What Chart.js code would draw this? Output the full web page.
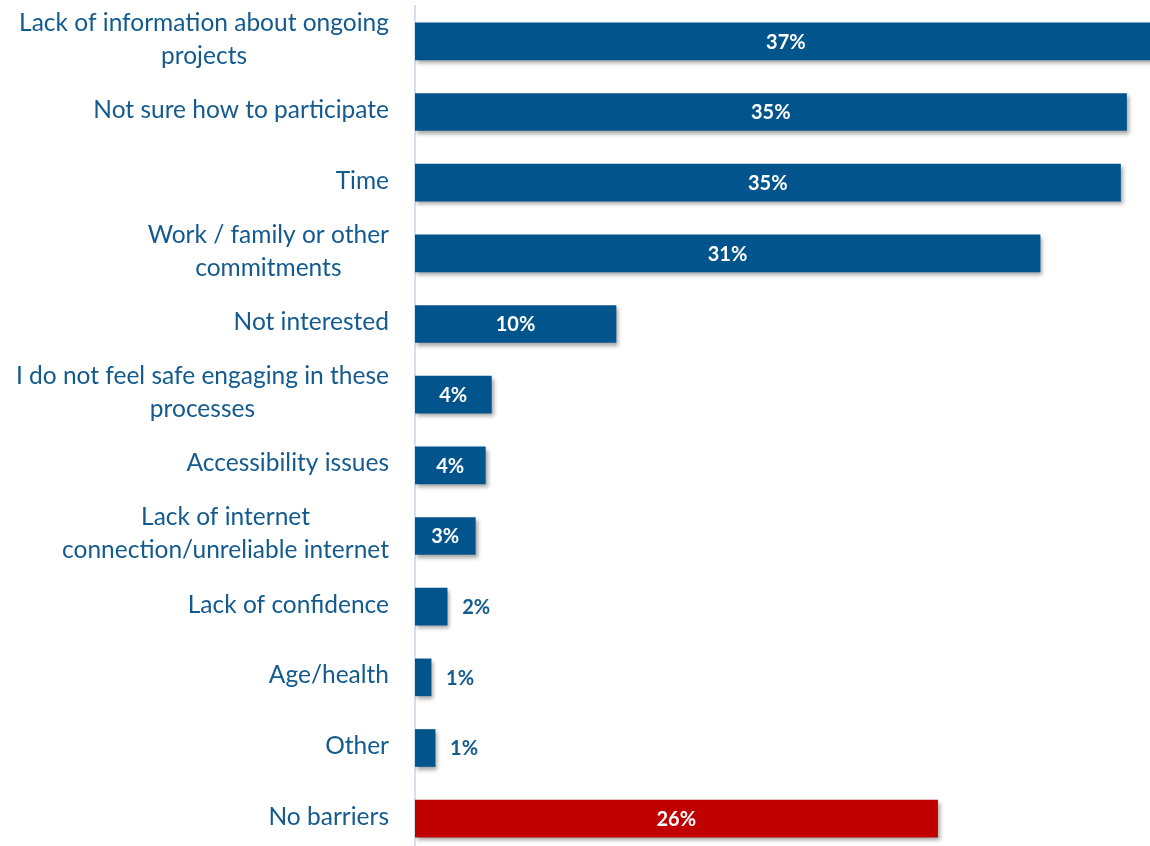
<!DOCTYPE html>
<html>
<head>
<meta charset="utf-8">
<script src="https://cdn.jsdelivr.net/npm/chart.js@4/dist/chart.umd.min.js"></script>
<style>
  html, body { margin: 0; padding: 0; background: #ffffff; overflow: hidden; width: 1150px; height: 846px; }
  #wrap { position: absolute; left: 0; top: 0; width: 1219px; height: 870px; }
</style>
</head>
<body>
<div id="wrap"><canvas id="c" width="1219" height="870"></canvas></div>
<script>
const categories = [
  ["Lack of information about ongoing", "projects"],
  ["Not sure how to participate"],
  ["Time"],
  ["Work / family or other", "commitments"],
  ["Not interested"],
  ["I do not feel safe engaging in these", "processes"],
  ["Accessibility issues"],
  ["Lack of internet", "connection/unreliable internet"],
  ["Lack of confidence"],
  ["Age/health"],
  ["Other"],
  ["No barriers"]
];
const values = [36.9, 35.4, 35.1, 31.1, 10.0, 3.8, 3.5, 3.0, 1.6, 0.8, 1.0, 26.0];
const valueLabels = ["37%", "35%", "35%", "31%", "10%", "4%", "4%", "3%", "2%", "1%", "1%", "26%"];
const barColors = ["#02558C", "#02558C", "#02558C", "#02558C", "#02558C", "#02558C", "#02558C", "#02558C", "#02558C", "#02558C", "#02558C", "#C00000"];

const LABEL_COLOR = "#135A8F";
const LABEL_FONT = "24.5px Lato, 'Open Sans', sans-serif";
const VALUE_FONT = "bold 20px Lato, 'Open Sans', sans-serif";

const shadowPlugin = {
  id: 'barShadow',
  beforeDatasetsDraw(chart) {
    const ctx = chart.ctx;
    ctx.save();
    ctx.shadowColor = 'rgba(0,0,0,0.35)';
    ctx.shadowBlur = 4;
    ctx.shadowOffsetX = 2;
    ctx.shadowOffsetY = 3;
  },
  afterDatasetsDraw(chart) {
    chart.ctx.restore();
  }
};

const textPlugin = {
  id: 'texts',
  afterDraw(chart) {
    const ctx = chart.ctx;
    const yScale = chart.scales.y;
    const xScale = chart.scales.x;
    const meta = chart.getDatasetMeta(0);
    ctx.save();
    ctx.font = LABEL_FONT;
    ctx.fillStyle = LABEL_COLOR;
    ctx.textAlign = 'center';
    ctx.textBaseline = 'middle';
    const rightEdge = chart.chartArea.left - 26;
    const lh = 33;
    categories.forEach((lines, i) => {
      const yc = yScale.getPixelForValue(i) - 2;
      const maxW = Math.max(...lines.map(l => ctx.measureText(l).width));
      const cx = rightEdge - maxW / 2;
      const y0 = yc - (lines.length - 1) * lh / 2;
      lines.forEach((l, k) => ctx.fillText(l, cx, y0 + k * lh));
    });
    ctx.font = VALUE_FONT;
    meta.data.forEach((bar, i) => {
      const left = xScale.getPixelForValue(0);
      const right = bar.x;
      ctx.textBaseline = 'middle';
      if (values[i] >= 2.5) {
        ctx.fillStyle = '#ffffff';
        ctx.textAlign = 'center';
        ctx.fillText(valueLabels[i], (left + right) / 2, bar.y + 1);
      } else {
        ctx.fillStyle = LABEL_COLOR;
        ctx.textAlign = 'left';
        ctx.fillText(valueLabels[i], right + 15, bar.y + 1);
      }
    });
    ctx.restore();
  }
};

new Chart(document.getElementById('c'), {
  type: 'bar',
  data: {
    labels: categories.map(c => c.join(' ')),
    datasets: [{
      data: values,
      backgroundColor: barColors,
      borderWidth: 0,
      barThickness: 37
    }]
  },
  options: {
    indexAxis: 'y',
    responsive: false,
    animation: false,
    layout: { padding: { left: 415, right: 0, top: 6, bottom: 16 } },
    plugins: { legend: { display: false }, tooltip: { enabled: false } },
    scales: {
      x: { display: false, min: 0, max: 40 },
      y: {
        grid: { display: false, drawTicks: false },
        border: { display: true, color: '#D5DFEF', width: 2 },
        ticks: { display: false }
      }
    }
  },
  plugins: [shadowPlugin, textPlugin]
});
</script>
</body>
</html>
